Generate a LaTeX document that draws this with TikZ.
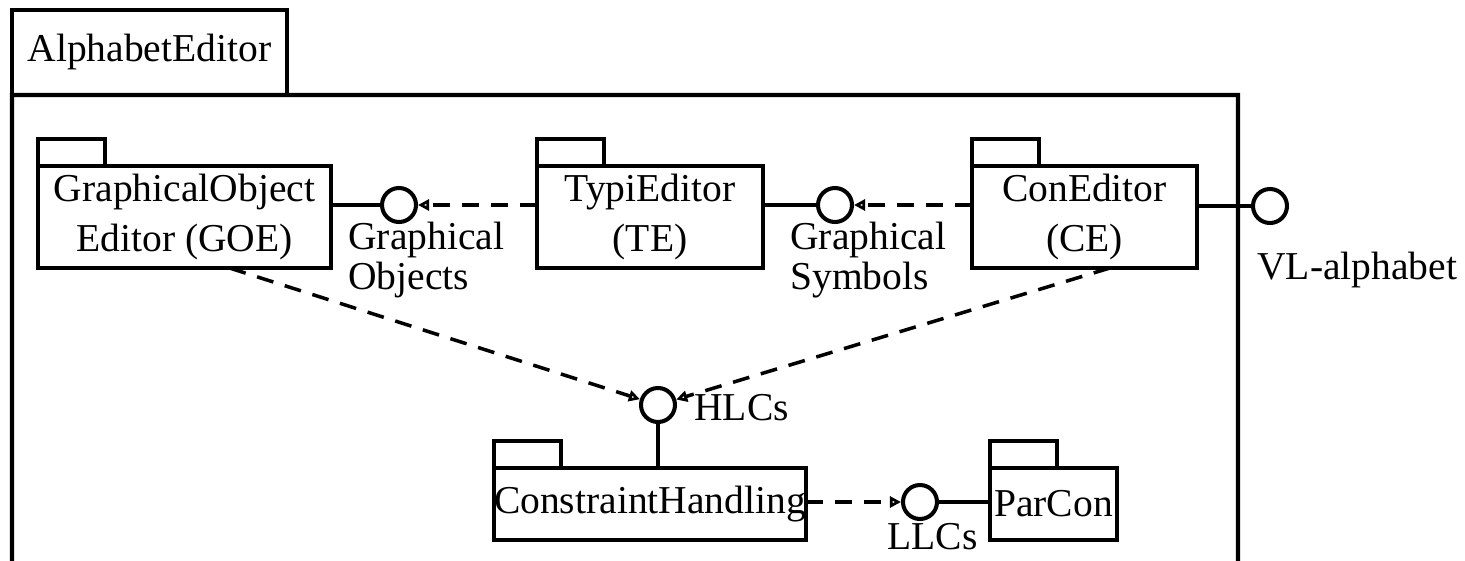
\documentclass[tikz,border=0pt]{standalone}
\usepackage{fontspec}
\setmainfont{Liberation Serif}
\usetikzlibrary{arrows.meta}
\begin{document}
\begin{tikzpicture}[x=0.02cm,y=-0.02cm,
  lw/.style={line width=2.3pt},
  pkgbody/.style={draw, lw, rectangle, inner sep=0pt, outer sep=0pt, align=center,
    font=\fontsize{22.5}{28.5}\selectfont},
  pkgtab/.style={lw, line join=miter},
  iface/.style={draw, lw, circle, inner sep=0pt, minimum size=0.68cm, fill=white},
  lbl/.style={inner sep=0pt, align=left, font=\fontsize{22.5}{22.8}\selectfont},
  solidline/.style={lw},
  dep/.style={line width=2pt, dash pattern=on 0.34cm off 0.24cm,
    -{Triangle[open, length=0.22cm, width=0.22cm, line width=1.6pt]}}
]
\useasboundingbox (0,0) rectangle (1465,561);

% outer package AlphabetEditor
\node[draw, lw, rectangle, inner sep=0pt, outer sep=0pt, minimum width=5.5cm, minimum height=1.7cm,
  anchor=north west, font=\fontsize{22.5}{28.5}\selectfont] (outertab) at (12,10) {AlphabetEditor};
\coordinate (obl) at (12,561);
\coordinate (obr) at (1238,561);
\coordinate (otr) at (1238,95);
\draw[lw] (obl) -- (outertab.south west) -- (otr) -- (obr);

% packages
\node[pkgbody, minimum width=5.86cm, minimum height=2.04cm] (GOE) at (184.5,217)
  {GraphicalObject\\Editor (GOE)};
\node[pkgbody, minimum width=4.52cm, minimum height=2.04cm] (TE) at (650,217)
  {TypiEditor\\(TE)};
\node[pkgbody, minimum width=4.5cm, minimum height=2.04cm] (CE) at (1084.5,217)
  {ConEditor\\(CE)};
\node[pkgbody, minimum width=6.12cm, minimum height=1.44cm] (CH) at (650,504)
  {ConstraintHandling};
\node[pkgbody, minimum width=2.54cm, minimum height=1.44cm] (PC) at (1053.5,504)
  {ParCon};

% package tabs
\foreach \p in {GOE,TE,CE,CH,PC}
  \draw[pkgtab] (\p.north west) -- ++(0,-27) -- ++(67,0) -- ++(0,27);

% interfaces
\node[iface] (GO) at (399,205) {};
\node[iface] (GS) at (835,205) {};
\node[iface] (VL) at (1270,206) {};
\node[iface] (HLC) at (658,405) {};
\node[iface] (LLC) at (920,502) {};

% labels
\node[lbl, anchor=north west] (GOlbl) at (348,222) {Graphical\\Objects};
\node[lbl, anchor=north west] (GSlbl) at (790,222) {Graphical\\Symbols};
\node[lbl, anchor=west] (VLlbl) at (1257,270) {VL-alphabet};
\node[lbl, anchor=west] (HLClbl) at (694,408) {HLCs};
\node[lbl, anchor=west] (LLClbl) at (887,537) {LLCs};

% connectors
\draw[solidline] (GOE.east |- GO) -- (GO);
\draw[dep] (TE.west |- GO) -- (GO);
\draw[solidline] (TE.east |- GS) -- (GS);
\draw[dep] (CE.west |- GS) -- (GS);
\draw[solidline] (CE.east |- VL) -- (VL);
\draw[solidline] (HLC) -- (HLC |- CH.north);
\draw[dep] (CH.east |- LLC) -- (LLC);
\draw[solidline] (LLC) -- (PC.west |- LLC);
\draw[dep] ([xshift=0.9cm]GOE.south) -- (HLC);
\draw[dep] ([xshift=0.51cm]CE.south) -- (HLC);
\end{tikzpicture}
\end{document}
